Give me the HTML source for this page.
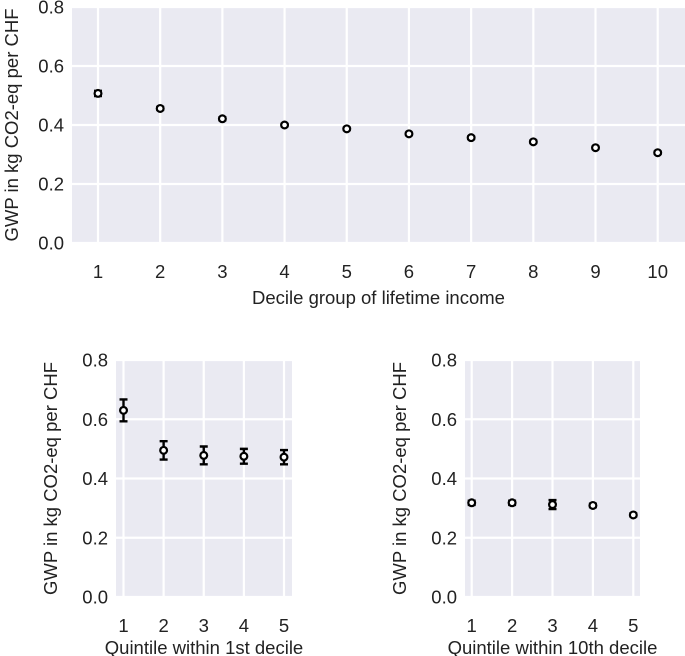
<!DOCTYPE html>
<html><head><meta charset="utf-8"><style>
body{margin:0;background:#fff;}
svg{display:block;font-family:"Liberation Sans",Arial,sans-serif;}
</style></head><body>
<svg id="fig" width="685" height="656" viewBox="0 0 685 656"></svg>
<script>
const topCats=[1,2,3,4,5,6,7,8,9,10];
const topVals=[0.507,0.456,0.421,0.400,0.387,0.370,0.357,0.343,0.323,0.306];
const topErr=[0.009,0.005,0.005,0.004,0.004,0.004,0.004,0.004,0.004,0.004];
const q1Cats=[1,2,3,4,5];
const q1Vals=[0.630,0.495,0.478,0.475,0.472];
const q1Err=[0.037,0.031,0.030,0.025,0.024];
const q10Cats=[1,2,3,4,5];
const q10Vals=[0.318,0.318,0.312,0.309,0.277];
const q10Err=[0.007,0.007,0.015,0.006,0.005];
const yTicks=[0,0.2,0.4,0.6,0.8];
const yTickLabels=["0.0","0.2","0.4","0.6","0.8"];
const svg=document.getElementById('fig');
const NS='http://www.w3.org/2000/svg';
function mk(tag,attrs,parent){const e=document.createElementNS(NS,tag);for(const k in attrs)e.setAttribute(k,attrs[k]);(parent||svg).appendChild(e);return e;}
function panel(o){
  const g=mk('g',{});
  
  
  const sx=v=>o.x1+(v-o.c1)*(o.xn-o.x1)/(o.cn-o.c1);
  const sy=v=>o.bottom-(v/0.8)*(o.bottom-o.top);
  const bg=mk('rect',{x:o.left,y:o.top,width:o.right-o.left,height:o.bottom-o.top,fill:'#eaeaf2'},g);
  
  
  yTicks.forEach((t,i)=>{
    const y=sy(t);
    const gl=mk('line',{x1:o.left,x2:o.right,y1:y,y2:y,stroke:'#fff','stroke-width':2.2},g);
    
    
    const tl=mk('text',{x:o.left-8,y:y+6.5,'text-anchor':'end','font-size':18.5,fill:'#222'},g);
    tl.textContent=yTickLabels[i];
    
    
  });
  o.cats.forEach(c=>{
    const x=sx(c);
    const gl=mk('line',{x1:x,x2:x,y1:o.top,y2:o.bottom,stroke:'#fff','stroke-width':2.2},g);
    
    
    const tl=mk('text',{x:x,y:o.bottom+35,'text-anchor':'middle','font-size':18.5,fill:'#222'},g);
    tl.textContent=c;
    
    
  });
  o.cats.forEach((c,i)=>{
    const x=sx(c),y=sy(o.vals[i]),y1=sy(o.vals[i]+o.err[i]),y2=sy(o.vals[i]-o.err[i]);
    const eb=mk('path',{d:`M${x},${y1}V${y2}M${x-4},${y1}H${x+4}M${x-4},${y2}H${x+4}`,stroke:'#000','stroke-width':2.4,fill:'none'},g);
    
    
    const p=mk('circle',{cx:x,cy:y,r:3.4,fill:'#fff',stroke:'#000','stroke-width':2.2},g);
    
    
  });
  const xt=mk('text',{x:(o.left+o.right)/2,y:o.bottom+o.xtOff,'text-anchor':'middle','font-size':18.5,fill:'#222'},g);
  xt.textContent=o.xlabel;
  
  
  const yc=(o.top+o.bottom)/2;
  const yt=mk('text',{x:o.ytx,y:yc,'text-anchor':'middle','font-size':18.5,fill:'#222',transform:`rotate(-90 ${o.ytx} ${yc})`},g);
  yt.textContent='GWP in kg CO2-eq per CHF';
  
  
}
panel({name:'decile-chart',left:72,right:685,top:7,bottom:243,x1:98,xn:657.7,c1:1,cn:10,cats:topCats,vals:topVals,err:topErr,xlabel:'Decile group of lifetime income',xtOff:61,ytx:18});
panel({name:'first-decile-chart',left:116,right:292,top:360,bottom:597,x1:123.5,xn:284,c1:1,cn:5,cats:q1Cats,vals:q1Vals,err:q1Err,xlabel:'Quintile within 1st decile',xtOff:57,ytx:57});
panel({name:'tenth-decile-chart',left:465,right:640,top:360,bottom:597,x1:471.7,xn:633.3,c1:1,cn:5,cats:q10Cats,vals:q10Vals,err:q10Err,xlabel:'Quintile within 10th decile',xtOff:57,ytx:406});
</script>
</body></html>
